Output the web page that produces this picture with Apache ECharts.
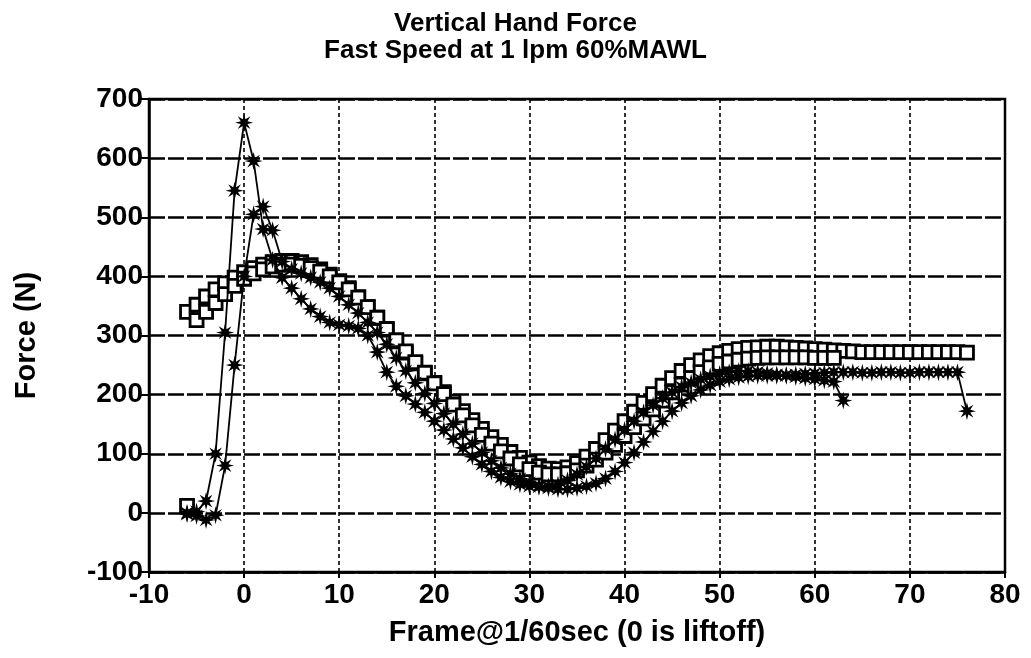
<!DOCTYPE html>
<html>
<head>
<meta charset="utf-8">
<script src="https://cdn.jsdelivr.net/npm/echarts@6/dist/echarts.min.js"></script>
<style>
html,body{margin:0;padding:0;background:#fff;}
#chart{width:1031px;height:658px;}
</style>
</head>
<body>
<div id="chart"></div>
<script>
// ---- data ----
const titleText = 'Vertical Hand Force\nFast Speed at 1 lpm 60%MAWL';
const xAxisName = 'Frame@1/60sec (0 is liftoff)';
const yAxisName = 'Force (N)';
const xTicks = [-10, 0, 10, 20, 30, 40, 50, 60, 70, 80];
const yTicks = [-100, 0, 100, 200, 300, 400, 500, 600, 700];

const frames = [-6,-5,-4,-3,-2,-1,0,1,2,3,4,5,6,7,8,9,10,11,12,13,14,15,16,17,18,19,20,21,22,23,24,25,26,27,28,29,30,31,32,33,34,35,36,37,38,39,40,41,42,43,44,45,46,47,48,49,50,51,52,53,54,55,56,57,58,59,60,61,62,63,64,65,66,67,68,69,70,71,72,73,74,75,76];

// star trial 1 (tall peak), ends at frame 63
const starA = [0,2,20,100,305,545,660,595,480,428,398,380,362,345,332,322,318,316,312,300,272,238,214,198,184,170,155,140,125,110,95,82,70,60,53,48,45,44,45,48,55,65,78,92,108,124,140,155,170,182,194,204,213,220,226,231,235,238,240,240,238,236,234,232,230,228,226,224,222,190];
// star trial 2, ends at frame 76
const starB = [-2,-5,-12,-4,80,250,400,505,518,478,425,412,405,398,390,380,366,352,338,322,305,285,262,240,220,202,185,168,150,133,117,102,88,76,66,58,51,46,42,40,40,42,45,50,58,70,85,102,120,138,155,172,186,198,208,216,222,226,229,231,232,232,232,233,234,235,236,237,238,238,238,237,237,238,238,237,237,238,238,238,238,238,172];
// square trial 1, ends at frame 76
const squareC = [340,352,366,378,388,398,407,414,420,424,426,426,424,419,412,403,392,380,365,348,330,310,290,271,253,236,220,204,188,172,157,142,128,115,103,93,85,79,75,74,77,84,95,108,123,139,155,171,186,201,215,228,240,250,258,265,270,274,277,279,280,281,281,280,279,278,277,276,275,274,273,272,272,272,272,272,272,272,272,272,272,272,271];
// square trial 2, ends at frame 62
const squareD = [12,326,340,355,370,384,396,405,412,417,420,420,418,414,408,400,390,378,364,348,330,311,292,273,255,237,219,201,183,165,148,132,117,104,92,82,74,68,65,65,67,72,80,90,102,115,130,145,160,175,190,204,217,228,238,246,252,256,259,261,262,263,263,263,263,263,262,262,262];

function pairs(ys) {
  return ys.map((v, i) => [frames[i], v]);
}

const starPath = 'path://M20 10 L13.7 8.47 L17.07 2.93 L11.53 6.3 L10 0 L8.47 6.3 L2.93 2.93 L6.3 8.47 L0 10 L6.3 11.53 L2.93 17.07 L8.47 13.7 L10 20 L11.53 13.7 L17.07 17.07 L13.7 11.53 Z';
const FONT = 'Liberation Sans, Arial, sans-serif';

const chart = echarts.init(document.getElementById('chart'), null, {renderer: 'canvas'});

function starSeries(name, ys) {
  return {
    name, type: 'line', data: pairs(ys),
    symbol: starPath, symbolSize: 18, showAllSymbol: true,
    itemStyle: {color: '#000'},
    lineStyle: {color: '#000', width: 1.8},
    animation: false, z: 3
  };
}
function squareSeries(name, ys) {
  return {
    name, type: 'line', data: pairs(ys),
    symbol: 'rect', symbolSize: 13, showAllSymbol: true,
    itemStyle: {color: '#fff', borderColor: '#000', borderWidth: 2.8},
    lineStyle: {opacity: 0},
    animation: false, z: 2
  };
}

chart.setOption({
  backgroundColor: '#fff',
  animation: false,
  title: {
    text: titleText, left: 'center', top: 5,
    textStyle: {fontFamily: FONT, fontSize: 26, fontWeight: 'bold', color: '#000', lineHeight: 27}
  },
  grid: {left: 149, right: 26, top: 99, bottom: 86, show: true, borderColor: '#000', borderWidth: 2.5},
  xAxis: {
    type: 'value', min: -10, max: 80, interval: 10,
    name: xAxisName, nameLocation: 'middle', nameGap: 46,
    nameTextStyle: {fontFamily: FONT, fontSize: 29, fontWeight: 'bold', color: '#000'},
    axisLine: {show: true, onZero: false, lineStyle: {color: '#000', width: 2.5}},
    axisTick: {show: true, length: 6, lineStyle: {color: '#000', width: 2}},
    axisLabel: {fontFamily: FONT, fontSize: 28, color: '#000', margin: 9, fontWeight: 'bold',
      formatter: v => xTicks.includes(v) ? String(v) : ''},
    splitLine: {show: true, lineStyle: {color: '#000', width: 1.6, type: [4, 3]}}
  },
  yAxis: {
    type: 'value', min: -100, max: 700, interval: 100,
    name: yAxisName, nameLocation: 'middle', nameGap: 108, nameRotate: 90,
    nameTextStyle: {fontFamily: FONT, fontSize: 29, fontWeight: 'bold', color: '#000'},
    axisLine: {show: true, onZero: false, lineStyle: {color: '#000', width: 2.5}},
    axisTick: {show: true, length: 8, lineStyle: {color: '#000', width: 2}},
    axisLabel: {fontFamily: FONT, fontSize: 28, color: '#000', margin: 6, fontWeight: 'bold',
      formatter: v => yTicks.includes(v) ? String(v) : ''},
    splitLine: {show: true, lineStyle: {color: '#000', width: 2.6, type: [16, 3]}}
  },
  series: [
    squareSeries('Square 1', squareC),
    squareSeries('Square 2', squareD),
    starSeries('Star 1', starA),
    starSeries('Star 2', starB)
  ]
});
</script>
</body>
</html>
